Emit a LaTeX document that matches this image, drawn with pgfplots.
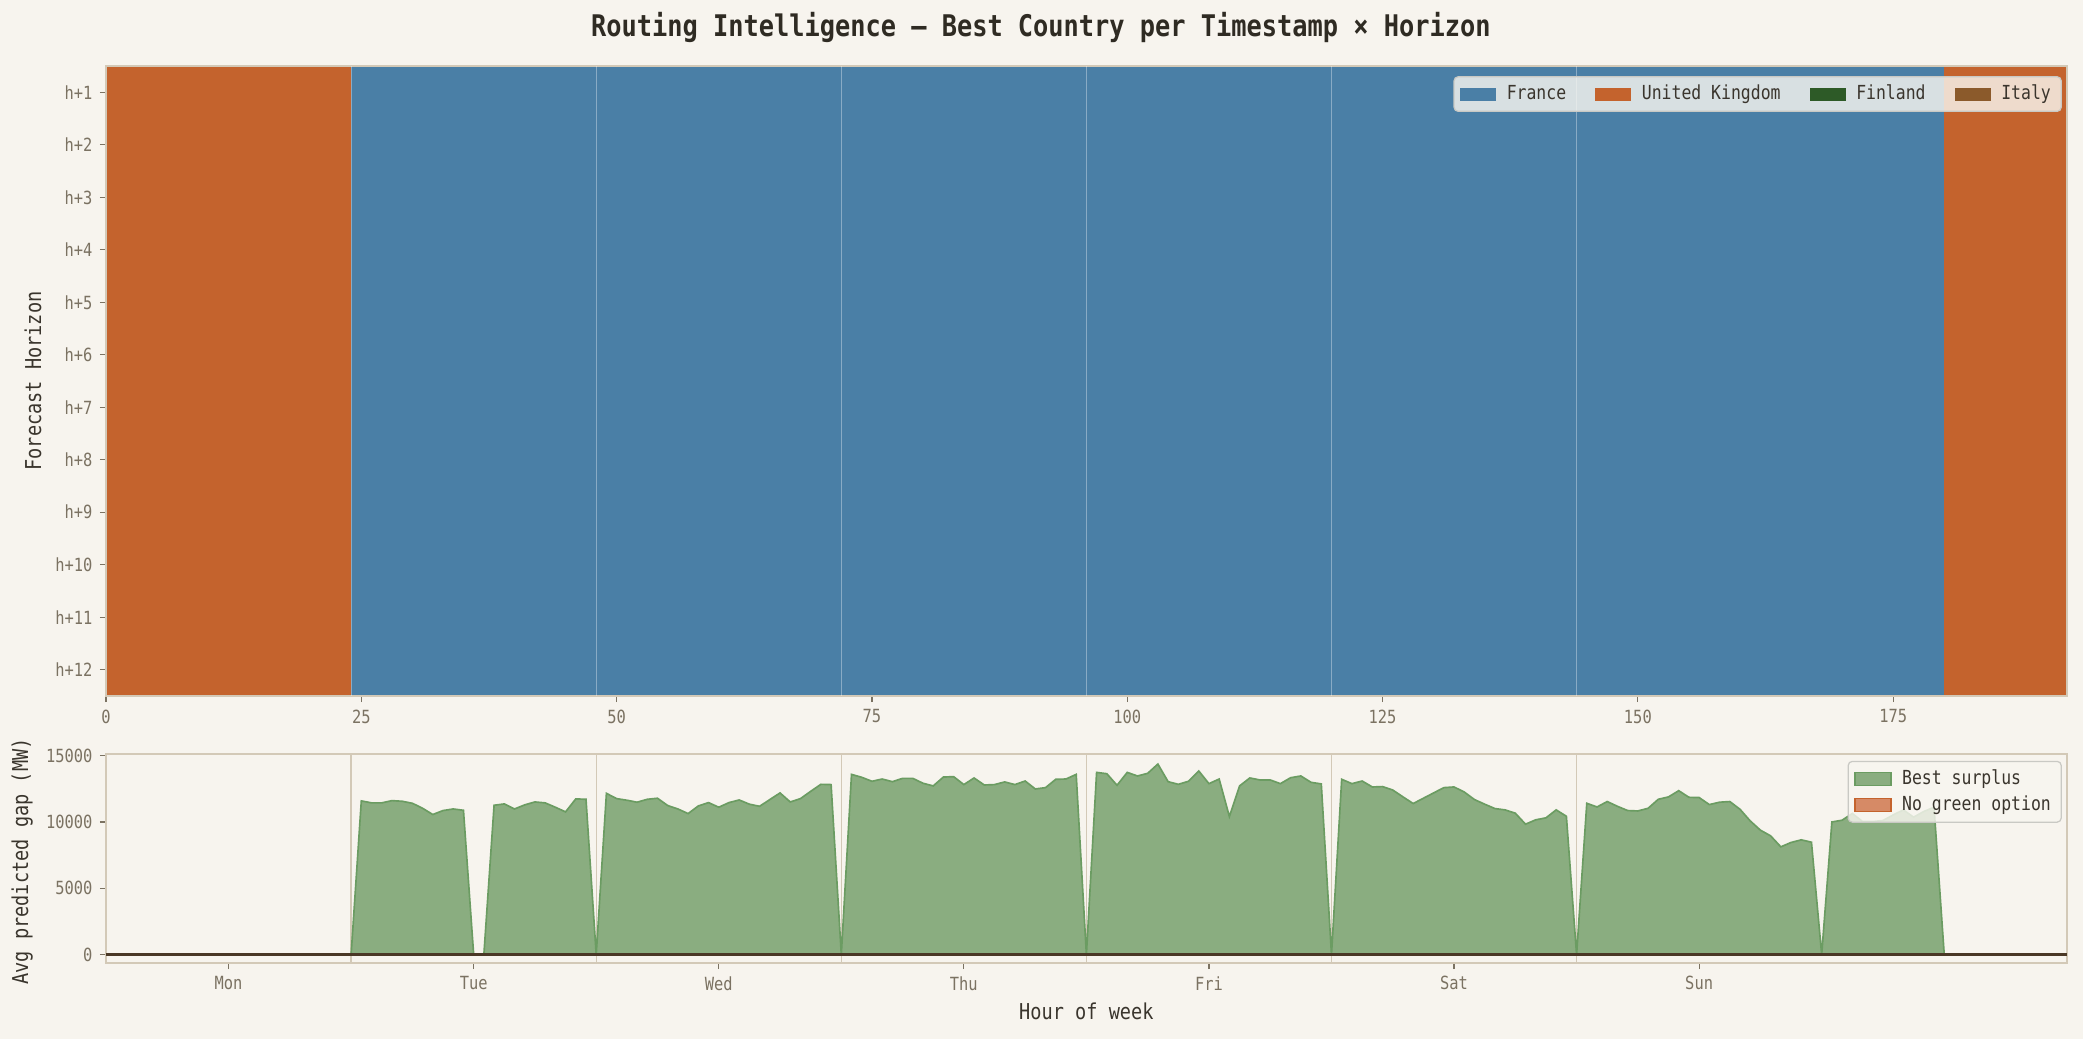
\documentclass[border=0pt]{standalone}
\usepackage{fontspec}
\setmainfont[FakeStretch=0.85]{DejaVu Sans Mono}
\usepackage{pgfplots}
\pgfplotsset{compat=1.18}

\definecolor{bg}{HTML}{F7F4EE}
\definecolor{framec}{HTML}{D3C9B7}
\definecolor{tickc}{HTML}{7B7262}
\definecolor{labc}{HTML}{3A352D}
\definecolor{titlec}{HTML}{2F2B23}
\definecolor{france}{HTML}{4A7FA6}
\definecolor{uk}{HTML}{C4632D}
\definecolor{finland}{HTML}{2D5A27}
\definecolor{italy}{HTML}{8B5A2B}
\definecolor{greenf}{HTML}{8AAD80}
\definecolor{greene}{HTML}{6B9C62}
\definecolor{nogreen}{HTML}{D68A66}
\definecolor{zeroc}{HTML}{4A3826}
\definecolor{legbg}{HTML}{F8F6F0}
\definecolor{legdraw}{HTML}{C9C9C4}

\pgfplotsset{
  every axis/.append style={
    scale only axis,
    anchor=north west,
    axis line style={framec, line width=0.8pt},
    tick style={tickc, line width=0.6pt},
    major tick length=3pt,
    tick align=outside,
    xtick pos=left, ytick pos=left,
    tick label style={text=tickc, font=\fontsize{8.7}{10}\selectfont},
    label style={text=labc, font=\fontsize{10.5}{12}\selectfont},
    /pgf/number format/assume math mode=true,
    legend cell align=left,
    legend style={fill=legbg, fill opacity=0.82, text opacity=1, draw=legdraw,
      line width=0.6pt, rounded corners=2pt, text=labc,
      font=\fontsize{9.3}{11}\selectfont,
      /tikz/every odd column/.append style={column sep=3pt},
      /tikz/every even column/.append style={column sep=12pt}},
  },
  patch/.style={legend image code/.code={%
    \path[sharp corners, fill opacity=1, draw opacity=1, #1] (0pt,-3.1pt) rectangle (17.3pt,3.1pt);}},
}

\begin{document}
\begin{tikzpicture}[x=1pt,y=1pt]
\path[fill=bg, use as bounding box] (0,0) rectangle (1000,-498.7);
\node[font=\bfseries\fontsize{14.3}{16}\selectfont, text=titlec] at (499.7,-13) {Routing Intelligence — Best Country per Timestamp × Horizon};

% best country per timestamp x horizon (same for all 12 horizons)
\begin{axis}[
  at={(50.9pt,-31.7pt)}, width=941.3pt, height=302.4pt,
  xmin=0, xmax=192, ymin=0.5, ymax=12.5, y dir=reverse,
  axis on top,
  xtick={0,25,50,75,100,125,150,175},
  ytick={1,2,3,4,5,6,7,8,9,10,11,12},
  yticklabels={h+1,h+2,h+3,h+4,h+5,h+6,h+7,h+8,h+9,h+10,h+11,h+12},
  extra x ticks={24,48,72,96,120,144},
  extra x tick labels={},
  extra x tick style={grid=major, major tick length=0pt,
    major grid style={white, opacity=0.35, line width=0.5pt}},
  ylabel={Forecast Horizon},
  ylabel style={at={(axis description cs:-0.0372,0.5)}, anchor=center},
  legend columns=4,
  legend style={at={(axis description cs:0.9975,0.984)}, anchor=north east},
]
\addplot[fill=uk, draw=none, forget plot] coordinates {(0,0.5) (24,0.5) (24,12.5) (0,12.5)} -- cycle;
\addplot[fill=france, draw=none, forget plot] coordinates {(24,0.5) (180,0.5) (180,12.5) (24,12.5)} -- cycle;
\addplot[fill=uk, draw=none, forget plot] coordinates {(180,0.5) (192,0.5) (192,12.5) (180,12.5)} -- cycle;
\addlegendimage{patch={fill=france, draw=none}}
\addlegendentry{France}
\addlegendimage{patch={fill=uk, draw=none}}
\addlegendentry{United Kingdom}
\addlegendimage{patch={fill=finland, draw=none}}
\addlegendentry{Finland}
\addlegendimage{patch={fill=italy, draw=none}}
\addlegendentry{Italy}
\end{axis}

% average predicted gap per hour of week
\begin{axis}[
  at={(50.9pt,-361.9pt)}, width=941.3pt, height=100.3pt,
  xmin=0, xmax=192, ymin=-620, ymax=15150,
  xtick={12,36,60,84,108,132,156},
  xticklabels={Mon,Tue,Wed,Thu,Fri,Sat,Sun},
  ytick={0,5000,10000,15000},
  scaled y ticks=false,
  yticklabel style={/pgf/number format/.cd, fixed, 1000 sep={}},
  extra x ticks={24,48,72,96,120,144},
  extra x tick labels={},
  extra x tick style={grid=major, major tick length=0pt,
    major grid style={framec, line width=0.6pt}},
  xlabel={Hour of week},
  xlabel style={at={(axis description cs:0.5,0)}, anchor=center, yshift=-23.5pt},
  ylabel={Avg predicted gap (MW)},
  ylabel style={at={(axis description cs:-0.0428,0.485)}, anchor=center},
  legend columns=1,
  legend style={at={(axis description cs:0.9975,0.967)}, anchor=north east},
]
\addplot[fill=greenf, draw=greene, line width=0.8pt, forget plot] coordinates {
(0,0) (23,0) (24,0)
(25,11600) (26,11450) (27,11450) (28,11620) (29,11570) (30,11420) (31,11040) (32,10570)
(33,10870) (34,10990) (35,10890) (36,0) (37,0) (38,11270) (39,11370) (40,10990)
(41,11300) (42,11520) (43,11450) (44,11120) (45,10770) (46,11750) (47,11720) (48,0)
(49,12170) (50,11770) (51,11650) (52,11500) (53,11720) (54,11800) (55,11250) (56,10990)
(57,10640) (58,11220) (59,11470) (60,11120) (61,11470) (62,11670) (63,11350) (64,11190)
(65,11700) (66,12200) (67,11520) (68,11770) (69,12320) (70,12850) (71,12830) (72,0)
(73,13600) (74,13380) (75,13080) (76,13250) (77,13050) (78,13300) (79,13300) (80,12930)
(81,12730) (82,13400) (83,13430) (84,12830) (85,13330) (86,12800) (87,12830) (88,13030)
(89,12830) (90,13100) (91,12500) (92,12600) (93,13230) (94,13250) (95,13600) (96,0)
(97,13750) (98,13650) (99,12780) (100,13750) (101,13480) (102,13680) (103,14380) (104,13050)
(105,12850) (106,13080) (107,13860) (108,12900) (109,13250) (110,10420) (111,12730) (112,13330)
(113,13180) (114,13180) (115,12900) (116,13350) (117,13480) (118,13000) (119,12880) (120,0)
(121,13230) (122,12900) (123,13100) (124,12650) (125,12680) (126,12420) (127,11900) (128,11400)
(129,11800) (130,12200) (131,12600) (132,12650) (133,12270) (134,11700) (135,11350) (136,11020)
(137,10920) (138,10670) (139,9840) (140,10170) (141,10320) (142,10920) (143,10440) (144,0)
(145,11420) (146,11140) (147,11550) (148,11190) (149,10870) (150,10840) (151,11040) (152,11720)
(153,11900) (154,12370) (155,11870) (156,11850) (157,11320) (158,11500) (159,11550) (160,10970)
(161,10090) (162,9390) (163,8960) (164,8130) (165,8460) (166,8660) (167,8480) (168,0)
(169,10010) (170,10140) (171,10650) (172,10040) (173,10040) (174,10120) (175,10540) (176,10920)
(177,10370) (178,10800) (179,11120) (180,0) (191,0)
} \closedcycle;
\addplot[zeroc, line width=1.4pt, forget plot] coordinates {(0,0) (192,0)};
\addlegendimage{patch={fill=greenf, draw=greene, line width=0.6pt}}
\addlegendentry{Best surplus}
\addlegendimage{patch={fill=nogreen, draw=uk, line width=0.6pt}}
\addlegendentry{No green option}
\end{axis}
\end{tikzpicture}
\end{document}
